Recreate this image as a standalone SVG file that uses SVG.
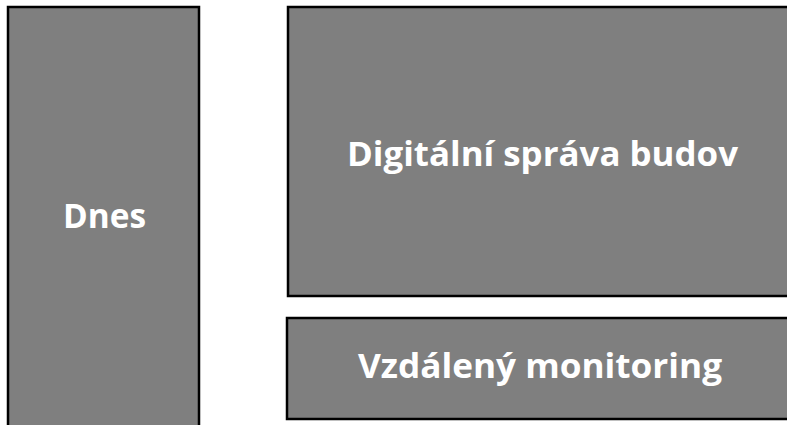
<svg xmlns="http://www.w3.org/2000/svg" width="787" height="425" viewBox="0 0 787 425">
<style>
.box{fill:#7f7f7f;stroke:#000;stroke-width:2.5}
.lbl{font-family:"Open Sans","Liberation Sans",sans-serif;font-weight:bold;font-size:34px;fill:#fff;text-anchor:middle}
</style>
<rect width="787" height="425" fill="#fff"/>
<g id="dnes">
<rect class="box" x="8" y="7" width="191" height="430"/>
<text class="lbl" x="104.5" y="228" textLength="83" lengthAdjust="spacingAndGlyphs">Dnes</text>
</g>
<g id="digitalni">
<rect class="box" x="288" y="7" width="520" height="289"/>
<text class="lbl" x="542.5" y="166" textLength="391" lengthAdjust="spacingAndGlyphs">Digitální správa budov</text>
</g>
<g id="vzdaleny">
<rect class="box" x="287" y="318" width="520" height="101"/>
<text class="lbl" x="540" y="378" textLength="364" lengthAdjust="spacingAndGlyphs">Vzdálený monitoring</text>
</g>
<g id="connectors"></g>
</svg>
